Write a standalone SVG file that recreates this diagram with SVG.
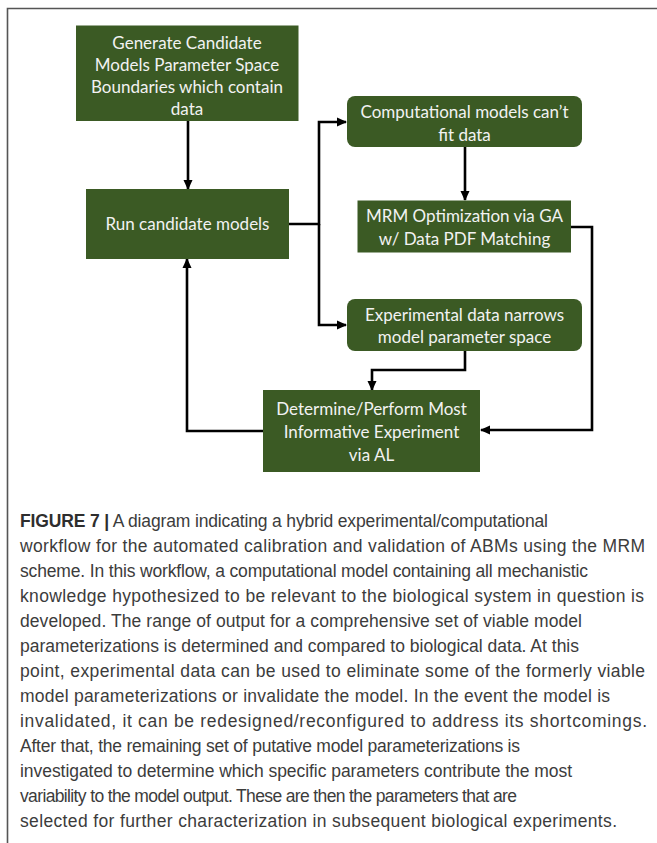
<svg xmlns="http://www.w3.org/2000/svg" width="657" height="843" viewBox="0 0 657 843">
<style>
.box{fill:#3b5a24}
.bt{font-family:Lato,"Open Sans","Liberation Sans",sans-serif;font-size:17px;fill:#f2f2f2;text-anchor:middle}
.cn{fill:none;stroke:#000;stroke-width:2.6;stroke-linejoin:miter}
.cap{font-family:"Liberation Sans",Arial,sans-serif;font-size:17.5px;fill:#3c3c3c}
.capb{font-weight:bold;fill:#2e2e2e}
</style>
<defs>
<marker id="ah" viewBox="0 0 10 10" refX="9" refY="5" markerWidth="10" markerHeight="10" markerUnits="userSpaceOnUse" orient="auto">
<path d="M0,0.5 L10,5 L0,9.5 Z" fill="#000"/>
</marker>
</defs>
<rect width="657" height="843" fill="#fff"/>
<path d="M7.5,843 V8.5 H657" fill="none" stroke="#555" stroke-width="1.6"/>
<g id="connectors">
<path class="cn" d="M188,121 V189" marker-end="url(#ah)"/>
<path class="cn" d="M289,224 H319 V122 H346" marker-end="url(#ah)"/>
<path class="cn" d="M319,224 V325 H346" marker-end="url(#ah)"/>
<path class="cn" d="M465,147 V200" marker-end="url(#ah)"/>
<path class="cn" d="M571,227 H592 V430 H481" marker-end="url(#ah)"/>
<path class="cn" d="M465,351 V370 H372 V390" marker-end="url(#ah)"/>
<path class="cn" d="M263,431 H187 V259" marker-end="url(#ah)"/>
</g>
<g id="n-generate">
<rect class="box" x="76" y="25.5" width="222.5" height="95.5"/>
<text class="bt" x="187" y="49">Generate Candidate</text>
<text class="bt" x="187" y="71">Models Parameter Space</text>
<text class="bt" x="187" y="93">Boundaries which contain</text>
<text class="bt" x="187" y="115">data</text>
</g>
<g id="n-run">
<rect class="box" x="86" y="189" width="203" height="70"/>
<text class="bt" x="187.5" y="229.5">Run candidate models</text>
</g>
<g id="n-comp">
<rect class="box" x="347" y="96" width="235" height="51" rx="8"/>
<text class="bt" x="464.5" y="118">Computational models can’t</text>
<text class="bt" x="464.5" y="141">fit data</text>
</g>
<g id="n-mrm">
<rect class="box" x="357.5" y="200.5" width="213.5" height="52"/>
<text class="bt" x="464.5" y="222">MRM Optimization via GA</text>
<text class="bt" x="464.5" y="245">w/ Data PDF Matching</text>
</g>
<g id="n-exp">
<rect class="box" x="347" y="299" width="235" height="52" rx="8"/>
<text class="bt" x="464.5" y="321">Experimental data narrows</text>
<text class="bt" x="464.5" y="343">model parameter space</text>
</g>
<g id="n-determine">
<rect class="box" x="263" y="390" width="217" height="82"/>
<text class="bt" x="371.5" y="415">Determine/Perform Most</text>
<text class="bt" x="371.5" y="438">Informative Experiment</text>
<text class="bt" x="371.5" y="461">via AL</text>
</g>
<g id="caption" class="cap">
<text x="20" y="527" textLength="528" lengthAdjust="spacing"><tspan class="capb">FIGURE 7 |</tspan> A diagram indicating a hybrid experimental/computational</text>
<text x="20" y="552" textLength="625" lengthAdjust="spacing">workflow for the automated calibration and validation of ABMs using the MRM</text>
<text x="20" y="577" textLength="568" lengthAdjust="spacing">scheme. In this workflow, a computational model containing all mechanistic</text>
<text x="20" y="602" textLength="624" lengthAdjust="spacing">knowledge hypothesized to be relevant to the biological system in question is</text>
<text x="20" y="627" textLength="562" lengthAdjust="spacing">developed. The range of output for a comprehensive set of viable model</text>
<text x="20" y="652" textLength="559" lengthAdjust="spacing">parameterizations is determined and compared to biological data. At this</text>
<text x="20" y="677" textLength="625" lengthAdjust="spacing">point, experimental data can be used to eliminate some of the formerly viable</text>
<text x="20" y="702" textLength="590" lengthAdjust="spacing">model parameterizations or invalidate the model. In the event the model is</text>
<text x="20" y="727" textLength="627" lengthAdjust="spacing">invalidated, it can be redesigned/reconfigured to address its shortcomings.</text>
<text x="20" y="752" textLength="500" lengthAdjust="spacing">After that, the remaining set of putative model parameterizations is</text>
<text x="20" y="777" textLength="552" lengthAdjust="spacing">investigated to determine which specific parameters contribute the most</text>
<text x="20" y="802" textLength="497" lengthAdjust="spacing">variability to the model output. These are then the parameters that are</text>
<text x="20" y="827" textLength="597" lengthAdjust="spacing">selected for further characterization in subsequent biological experiments.</text>
</g>
</svg>
